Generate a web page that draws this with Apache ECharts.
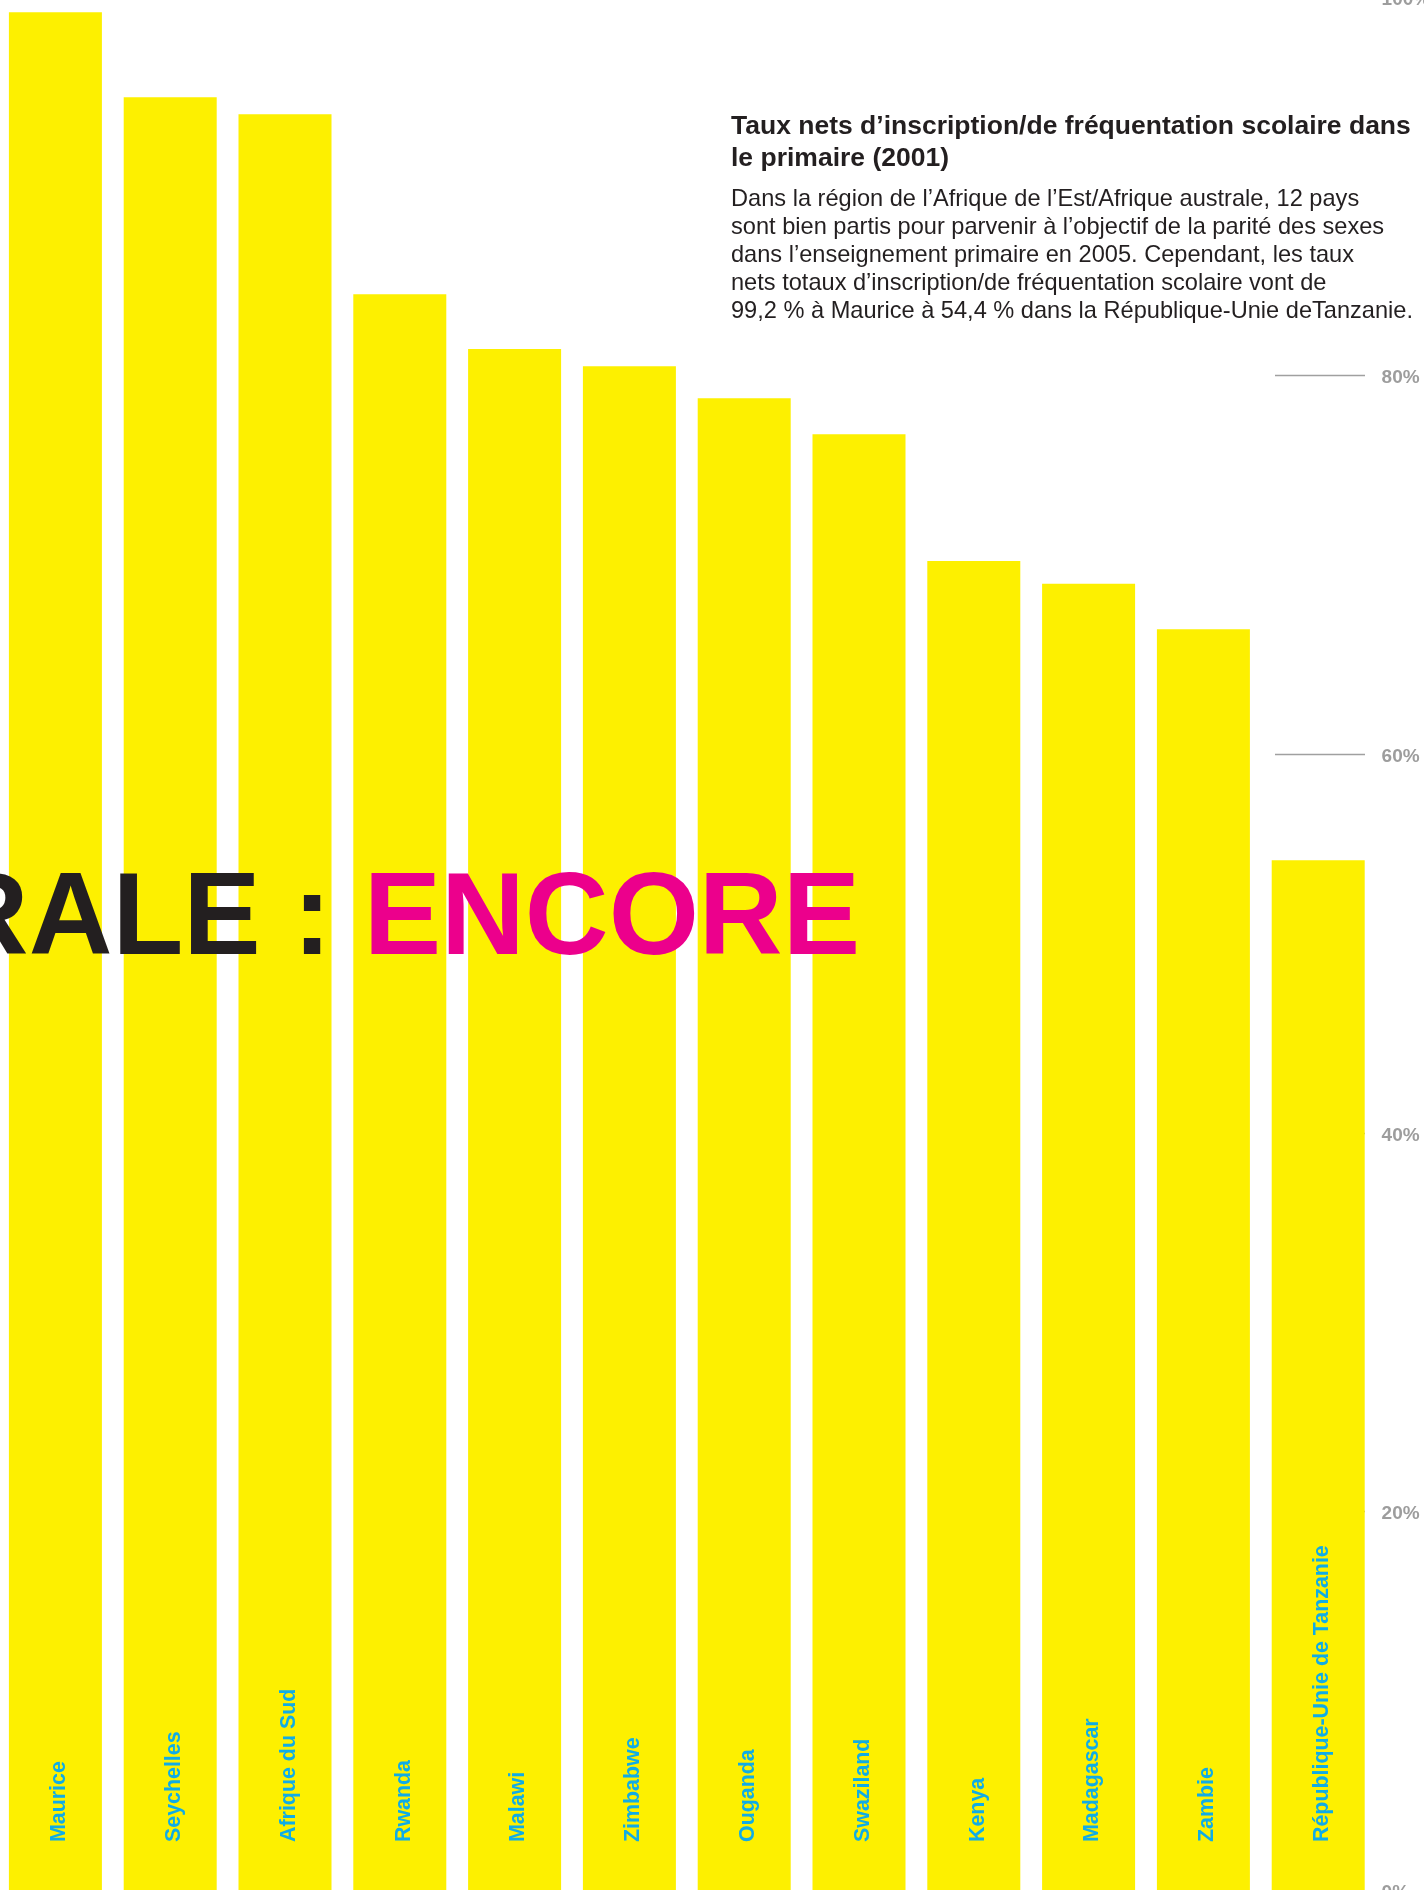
<!DOCTYPE html>
<html>
<head>
<meta charset="utf-8">
<script src="https://cdn.jsdelivr.net/npm/echarts@6/dist/echarts.min.js"></script>
<style>
html,body{margin:0;padding:0;background:#fff;}
#chart{width:1424px;height:1890px;}
</style>
</head>
<body>
<div id="chart"></div>
<script>
const categories = ['Maurice','Seychelles','Afrique du Sud','Rwanda','Malawi','Zimbabwe','Ouganda','Swaziland','Kenya','Madagascar','Zambie','République-Unie de Tanzanie'];
const rates = [99.2, 94.7, 93.8, 84.3, 81.4, 80.5, 78.8, 76.9, 70.2, 69.0, 66.6, 54.4];
const axisMin = 0, axisMax = 100, axisStep = 20;
const titleText = 'Taux nets d’inscription/de fréquentation scolaire dans\nle primaire (2001)';
const bodyLines = [
  'Dans la région de l’Afrique de l’Est/Afrique australe, 12 pays',
  'sont bien partis pour parvenir à l’objectif de la parité des sexes',
  'dans l’enseignement primaire en 2005. Cependant, les taux',
  'nets totaux d’inscription/de fréquentation scolaire vont de',
  '99,2 % à Maurice à 54,4 % dans la République-Unie deTanzanie.'
];
const bannerDark = 'RALE : ';
const bannerPink = 'ENCORE';

const chart = echarts.init(document.getElementById('chart'), null, {renderer:'canvas'});
const FONT = '"Liberation Sans", Arial, Helvetica, sans-serif';
chart.setOption({
  animation: false,
  backgroundColor: '#ffffff',
  grid: [
    {left: -2, right: 48.4, top: -3, bottom: 0, containLabel: false, outerBoundsMode: 'none'},
    {left: 1275, width: 90, top: -3, bottom: 0, containLabel: false, outerBoundsMode: 'none'}
  ],
  xAxis: [
    {type: 'category', data: categories, gridIndex: 0, show: false},
    {type: 'value', gridIndex: 1, show: false, min: 0, max: 1}
  ],
  yAxis: [
    {
      type: 'value', gridIndex: 0, position: 'right', min: axisMin, max: axisMax, interval: axisStep,
      axisLine: {show: false}, axisTick: {show: false}, splitLine: {show: false},
      axisLabel: {
        formatter: '{value}%', color: '#9d9d9d', fontWeight: 'bold', fontSize: 19,
        fontFamily: FONT, margin: 6, verticalAlign: 'top', lineHeight: 5
      }
    },
    {
      type: 'value', gridIndex: 1, min: axisMin, max: axisMax, interval: axisStep,
      axisLine: {show: false}, axisTick: {show: false}, axisLabel: {show: false},
      splitLine: {show: true, showMinLine: false, showMaxLine: false, lineStyle: {color: '#a0a0a0', width: 1.3}}
    }
  ],
  series: [{
    type: 'bar',
    data: rates,
    xAxisIndex: 0, yAxisIndex: 0,
    barWidth: 93,
    itemStyle: {color: '#fdf000'},
    z: 2,
    label: {
      show: true,
      position: 'insideBottom',
      distance: 48,
      rotate: 90,
      align: 'left',
      verticalAlign: 'middle',
      offset: [0, 4],
      formatter: '{b}',
      color: '#10ace6',
      fontWeight: 'bold',
      fontSize: 21.4,
      fontFamily: FONT
    }
  }],
  graphic: [
    {
      type: 'text', z: 100, left: 731, top: 111,
      style: {
        text: titleText, fill: '#231f20', font: 'bold 26.5px ' + FONT, lineHeight: 32
      }
    },
    {
      type: 'text', z: 100, left: 731, top: 185,
      style: {
        text: bodyLines.join('\n'), fill: '#231f20', font: '23.6px ' + FONT, lineHeight: 28
      }
    },
    {
      type: 'text', z: 100, x: 860, y: 922,
      style: {
        text: '{k|' + bannerDark + '}{m|' + bannerPink + '}',
        align: 'right', verticalAlign: 'middle',
        rich: {
          k: {fill: '#231f20', font: 'bold 116px ' + FONT},
          m: {fill: '#ec008c', font: 'bold 116px ' + FONT}
        }
      }
    }
  ]
});
</script>
</body>
</html>
